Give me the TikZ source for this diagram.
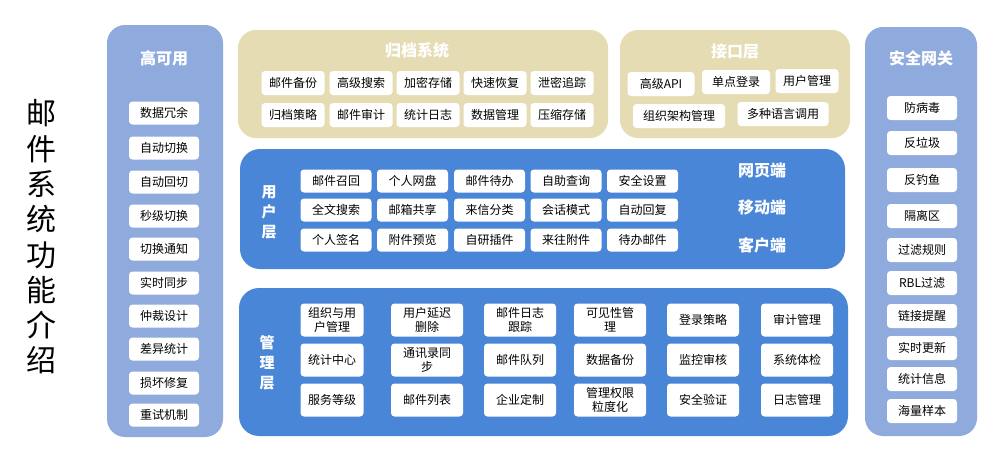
\documentclass[tikz,border=0pt]{standalone}
\usepackage{fontspec}
\setmainfont{Noto Sans CJK SC}
\definecolor{sidebl}{HTML}{8FAADC}
\definecolor{tan}{HTML}{E6DCB4}
\definecolor{layerbl}{HTML}{4A86D8}
\begin{document}
\begin{tikzpicture}[x=1pt,y=-1pt,
  item/.style={fill=white, rounded corners=3.5pt, inner sep=0pt, minimum width=70pt, minimum height=23pt, font=\fontsize{12}{14}\selectfont, text=black, align=center},
  ttl/.style={text=white, font=\fontsize{16}{20}\bfseries\selectfont, inner sep=0pt},
  vttl/.style={text=white, font=\fontsize{15}{20}\bfseries\selectfont, inner sep=0pt, align=center},
  mitem/.style={item, minimum width=72pt, minimum height=33pt}
]
\useasboundingbox (0,0) rectangle (1000,461);
\fill[white] (0,0) rectangle (1000,461);

% main vertical title
\node[inner sep=0pt, align=center, font=\fontsize{30}{35.3}\selectfont] (main) at (42,237) {邮\\件\\系\\统\\功\\能\\介\\绍};

% panels
\fill[sidebl, rounded corners=18pt] (107,25) rectangle (223,437);
\fill[sidebl, rounded corners=18pt] (865,27) rectangle (977,436);
\fill[tan, rounded corners=18pt] (238,30) rectangle (608,138);
\fill[tan, rounded corners=18pt] (620,30) rectangle (850,138);
\fill[layerbl, rounded corners=20pt] (240,149) rectangle (845,269);
\fill[layerbl, rounded corners=20pt] (239,288) rectangle (848,436);

% titles
\node[ttl] (tha) at (164,58) {高可用};
\node[ttl] (tsg) at (921,58) {安全网关};
\node[ttl] (tar) at (417,50) {归档系统};
\node[ttl] (tif) at (735,52) {接口层};
\node[vttl] (tus) at (269,212) {用\\户\\层};
\node[vttl] (tmg) at (267,363) {管\\理\\层};
\node[ttl] (tweb) at (762,170) {网页端};
\node[ttl] (tmob) at (762,207) {移动端};
\node[ttl] (tcli) at (762,245) {客户端};

% high availability column
\foreach \i/\y/\t in {1/113/数据冗余,2/148/自动切换,3/182/自动回切,4/216/秒级切换,5/249/切换通知,6/283/实时同步,7/316/仲裁设计,8/349/差异统计,9/383/损坏修复,10/415/重试机制}
  \node[item] (ha\i) at (164,\y) {\t};

% security gateway column
\foreach \i/\y/\t in {1/108/防病毒,2/143/反垃圾,3/180/反钓鱼,4/216/隔离区,5/250/过滤规则,6/283/RBL过滤,7/316/链接提醒,8/348/实时更新,9/379/统计信息,10/411/海量样本}
  \node[item, minimum height=24pt] (sg\i) at (922,\y) {\t};

% archive system
\foreach \i/\x/\t in {1/293/邮件备份,2/361/高级搜索,3/428/加密存储,4/495/快速恢复,5/562/泄密追踪}
  \node[item, minimum width=63pt, minimum height=24pt] (ara\i) at (\x,83) {\t};
\foreach \i/\x/\t in {1/293/归档策略,2/361/邮件审计,3/428/统计日志,4/495/数据管理,5/562/压缩存储}
  \node[item, minimum width=63pt, minimum height=24pt] (arb\i) at (\x,115) {\t};

% interface layer
\node[item, minimum width=67pt, minimum height=24pt] (if1) at (661,84) {高级API};
\node[item, minimum width=68pt, minimum height=24pt] (if2) at (736,82) {单点登录};
\node[item, minimum width=63pt, minimum height=24pt] (if3) at (807,81) {用户管理};
\node[item, minimum width=92pt, minimum height=24pt] (if4) at (679,116) {组织架构管理};
\node[item, minimum width=91pt, minimum height=24pt] (if5) at (783,114) {多种语言调用};

% user layer
\foreach \i/\x/\t in {1/336/邮件召回,2/412.5/个人网盘,3/489.5/邮件待办,4/566/自助查询,5/642.5/安全设置}
  \node[item, minimum width=71pt] (usa\i) at (\x,181) {\t};
\foreach \i/\x/\t in {1/336/全文搜索,2/412.5/邮箱共享,3/489.5/来信分类,4/566/会话模式,5/642.5/自动回复}
  \node[item, minimum width=71pt] (usb\i) at (\x,210) {\t};
\foreach \i/\x/\t in {1/336/个人签名,2/412.5/附件预览,3/489.5/自研插件,4/566/来往附件,5/642.5/待办邮件}
  \node[item, minimum width=71pt] (usc\i) at (\x,240) {\t};

% management layer
\node[mitem, minimum width=63pt] (mg11) at (332,320) {组织与用\\户管理};
\node[mitem] (mg12) at (427,320) {用户延迟\\删除};
\node[mitem] (mg13) at (520,320) {邮件日志\\跟踪};
\node[mitem] (mg14) at (610,320) {可见性管\\理};
\node[mitem] (mg15) at (703,320) {登录策略};
\node[mitem] (mg16) at (797,320) {审计管理};
\node[mitem, minimum width=63pt] (mg21) at (332,360) {统计中心};
\node[mitem] (mg22) at (427,360) {通讯录同\\步};
\node[mitem] (mg23) at (520,360) {邮件队列};
\node[mitem] (mg24) at (610,360) {数据备份};
\node[mitem] (mg25) at (703,360) {监控审核};
\node[mitem] (mg26) at (797,360) {系统体检};
\node[mitem, minimum width=63pt] (mg31) at (332,400) {服务等级};
\node[mitem] (mg32) at (427,400) {邮件列表};
\node[mitem] (mg33) at (520,400) {企业定制};
\node[mitem] (mg34) at (610,400) {管理权限\\粒度化};
\node[mitem] (mg35) at (703,400) {安全验证};
\node[mitem] (mg36) at (797,400) {日志管理};
\end{tikzpicture}
\end{document}
